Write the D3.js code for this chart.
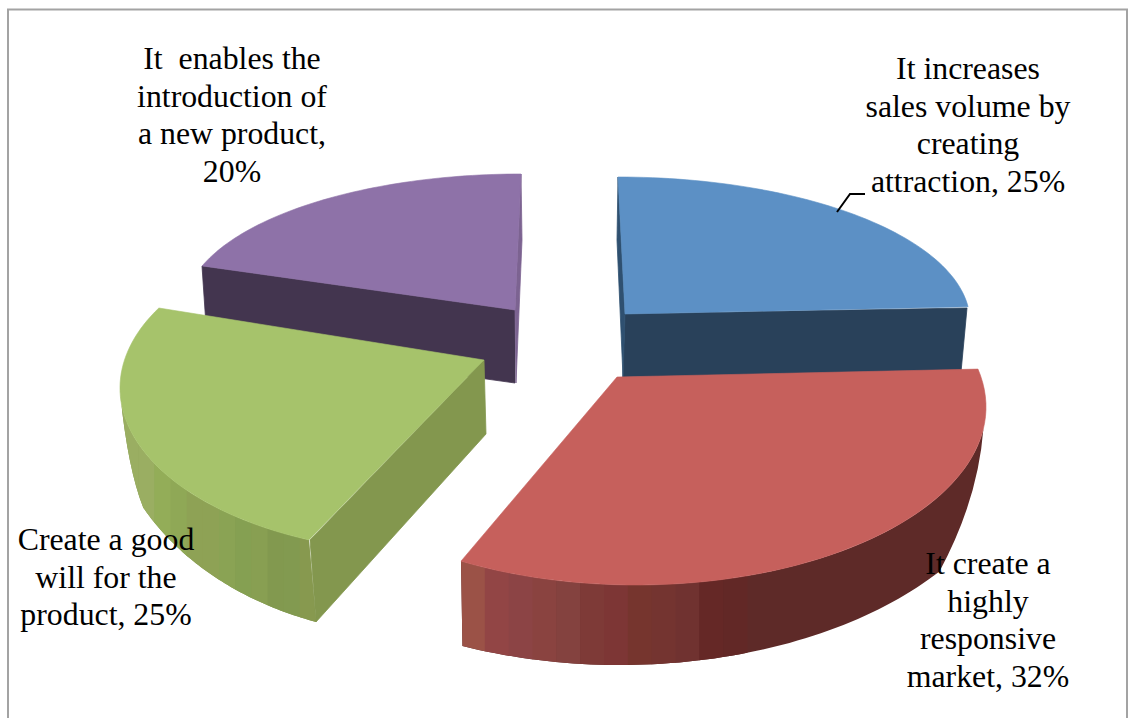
<!DOCTYPE html>
<html><head><meta charset="utf-8">
<script src="https://cdnjs.cloudflare.com/ajax/libs/d3/7.8.5/d3.min.js"></script>
<style>html,body{margin:0;padding:0;background:#fff}svg{display:block}
text{font-family:"Liberation Serif",serif;font-size:31.8px;fill:#000;white-space:pre;text-anchor:middle}</style>
</head><body><script>
const categories=["It increases sales volume by creating attraction","It create a highly responsive market","Create a good will for the product","It enables the introduction of a new product"];
const values=[25,32,25,20];
const labelLines=[
 ["It increases","sales volume by","creating","attraction, {v}"],
 ["It create a","highly","responsive","market, {v}"],
 ["Create a good","will for the","product, {v}"],
 ["It  enables the","introduction of","a new product,","{v}"]];

const W=1128,H=718;
const svg=d3.select("body").append("svg").attr("width",W).attr("height",H);
const line=d3.line();
const closed=p=>line(p)+"Z";
const pt=(e,deg)=>{const a=deg*Math.PI/180;return [e.cx+e.rx*Math.sin(a),e.cy-e.ry*Math.cos(a)];};
const arcPts=(e,a0,a1,n=60)=>d3.range(n+1).map(i=>pt(e,a0+(a1-a0)*i/n));

// layout of each exploded slice as the perspective projection shows it
const geom=[
 {top:{cx:618,cy:322,rx:352,ry:145},sweep:[0,84],apex:[625,314],fill:"#5c90c5",
  faces:[{pts:[[967,308],[961,372],[623,377],[625,314]],fill:"#29415a"},
         {pts:[[618,177],[617,240],[623,377],[625,314]],fill:"#2f5070"}],
  label:{x:968,y:79},leader:[[837,212],[850,194],[865,194]]},
 {top:{cx:636,cy:407,rx:350,ry:178},sweep:[77.7,210],apex:[617,377],fill:"#c6605c",
  wall:{from:97,to:210,base:{cx:620,cy:430,rx:400,ry:235},baseFrom:203.2,baseTo:127,ctrl:[978,500],fill:"#5e2a28",
        band:[461,747],shades:["#9b5247","#924545","#8c4445","#8a4340","#84423f","#7e3a37","#7d3635","#76352e","#743430","#703230","#652826","#622826"]},
  label:{x:988,y:574}},
 {top:{cx:430,cy:388,rx:310,ry:165},sweep:[203,299],apex:[484,360],fill:"#a6c36b",
  wall:{from:268,to:203,base:{cx:417,cy:395,rx:310,ry:240},baseFrom:199,baseTo:242,ctrl:[128,470],fill:"#83974e",
        band:[122,316],shades:["#9aae62","#9aae62","#93ad58","#8fa856","#8ea255","#8ea255","#8aa354","#85a052","#889f52","#82994f","#829a50","#87994f"]},
  faces:[{pts:[[484,360],[486,434],[316,622],[310,540]],fill:"#83974e"}],
  label:{x:106,y:550}},
 {top:{cx:521,cy:310,rx:337,ry:136},sweep:[288.9,360],apex:[515,310],fill:"#8e72a8",
  faces:[{pts:[[202,266],[207,340],[515,383],[515,310]],fill:"#43354f"},
         {pts:[[521,174],[522,240],[516,383],[515,310]],fill:"#7c6391"}],
  label:{x:232,y:69}}];

const pie=d3.pie().sort(null)(values);
const drawOrder=[0,3,2,1];

// chart frame (open at the bottom, as in the cropped picture)
svg.append("path").attr("d",line([[8,H],[8,9.5],[1127,9.5],[1127,H]]))
  .attr("fill","none").attr("stroke","#a3a3a3").attr("stroke-width",2);

drawOrder.forEach(i=>{
  const g=geom[i],d=pie[i],s=svg.append("g");
  if(g.wall){
    const w=g.wall;
    const top=arcPts(g.top,w.from,w.to);
    const bottom=arcPts(w.base,w.baseFrom,w.baseTo);
    const first=top[0];
    const wallPath=line(top)+"L"+line(bottom).slice(1)+
      `Q${w.ctrl[0]},${w.ctrl[1]} ${first[0]},${first[1]}Z`;
    const id="wall"+i;
    svg.append("clipPath").attr("id",id).append("path").attr("d",wallPath);
    s.append("path").attr("d",wallPath).attr("fill",w.fill);
    const band=d3.scaleBand().domain(d3.range(w.shades.length)).range(w.band);
    s.append("g").attr("clip-path",`url(#${id})`).selectAll("rect").data(w.shades).join("rect")
      .attr("x",(c,k)=>band(k)).attr("y",0).attr("width",band.bandwidth()+.5).attr("height",H).attr("fill",c=>c);
  }
  (g.faces||[]).forEach(f=>s.append("path").attr("d",closed(f.pts)).attr("fill",f.fill).attr("stroke",f.fill).attr("stroke-width",.8));
  const ang=d3.scaleLinear().domain([d.startAngle,d.endAngle]).range(g.sweep);
  const arc=d3.range(61).map(k=>pt(g.top,ang(d.startAngle+(d.endAngle-d.startAngle)*k/60)));
  s.append("path").attr("d",closed([g.apex,...arc])).attr("fill",g.fill).attr("stroke",g.fill).attr("stroke-width",.6);
  if(g.leader) s.append("path").attr("d",line(g.leader)).attr("fill","none").attr("stroke","#000").attr("stroke-width",2);
});

const lineStep=d3.scaleLinear().domain([0,1]).range([0,37.6]);
labelLines.forEach((lines,i)=>{
  const t=svg.append("text").attr("aria-label",categories[i]+", "+values[i]+"%");
  lines.forEach((l,k)=>t.append("tspan").attr("x",geom[i].label.x).attr("y",geom[i].label.y+lineStep(k))
    .text(l.replace("{v}",values[i]+"%")));
});
</script></body></html>
